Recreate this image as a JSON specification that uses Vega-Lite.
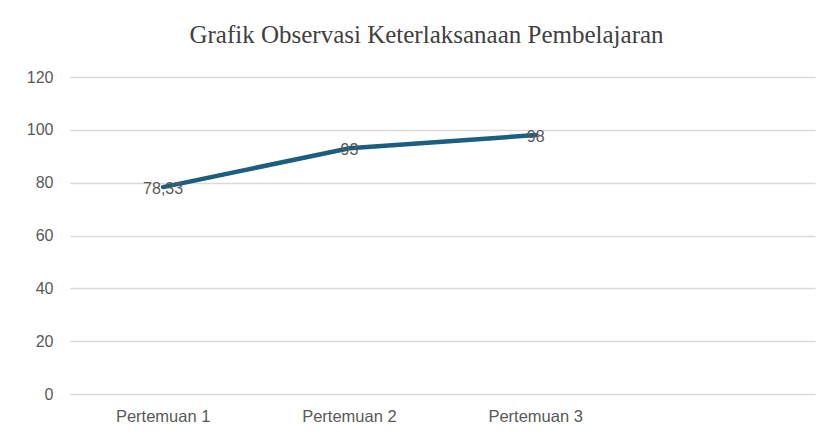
{
  "$schema": "https://vega.github.io/schema/vega-lite/v6.json",
  "width": 745,
  "height": 317,
  "autosize": {"type": "none"},
  "padding": {"left": 70, "top": 77, "right": 11, "bottom": 40},
  "background": "white",
  "config": {"view": {"stroke": null}},
  "title": {
    "text": "Grafik Observasi Keterlaksanaan Pembelajaran",
    "font": "Liberation Serif",
    "fontSize": 25,
    "fontWeight": "normal",
    "color": "#404040",
    "anchor": "middle",
    "dx": -16,
    "offset": 21
  },
  "data": {
    "values": [
      {"p": "Pertemuan 1", "v": 78.33, "label": "78,33"},
      {"p": "Pertemuan 2", "v": 93, "label": "93"},
      {"p": "Pertemuan 3", "v": 98, "label": "98"}
    ]
  },
  "encoding": {
    "x": {
      "field": "p",
      "type": "nominal",
      "sort": null,
      "scale": {"type": "band", "domain": ["Pertemuan 1", "Pertemuan 2", "Pertemuan 3", " "], "paddingInner": 0, "paddingOuter": 0},
      "axis": {
        "title": null,
        "labelAngle": 0,
        "ticks": false,
        "domain": false,
        "grid": false,
        "labelFont": "Liberation Sans",
        "labelFontSize": 16.5,
        "labelColor": "#595959",
        "labelPadding": 14
      }
    },
    "y": {
      "field": "v",
      "type": "quantitative",
      "scale": {"domain": [0, 120], "nice": false},
      "axis": {
        "title": null,
        "values": [0, 20, 40, 60, 80, 100, 120],
        "ticks": false,
        "domain": false,
        "gridColor": "#d9d9d9",
        "gridWidth": 1.5,
        "labelFont": "Liberation Sans",
        "labelFontSize": 16,
        "labelColor": "#595959",
        "labelPadding": 17
      }
    }
  },
  "layer": [
    {
      "mark": {"type": "line", "color": "#1b5e80", "strokeWidth": 4.5, "strokeCap": "round"}
    },
    {
      "mark": {"type": "text", "font": "Liberation Sans", "fontSize": 16, "color": "#595959", "baseline": "middle", "dy": 2},
      "encoding": {"text": {"field": "label"}}
    }
  ]
}
